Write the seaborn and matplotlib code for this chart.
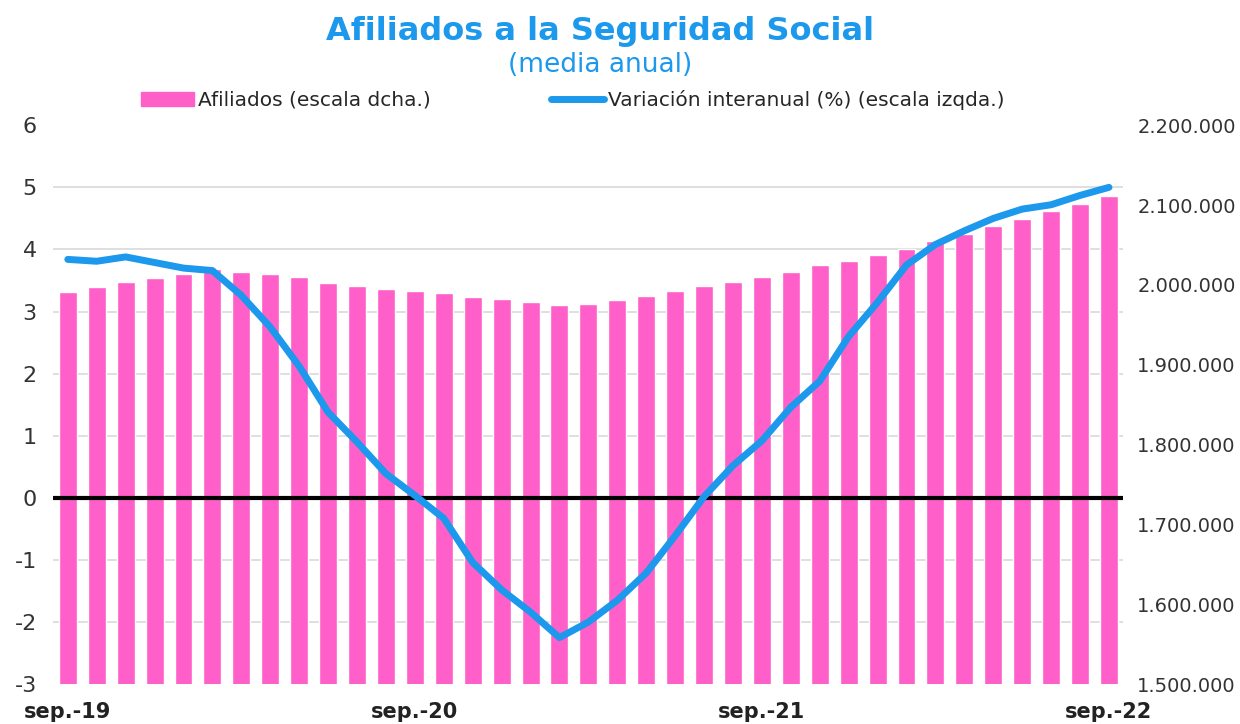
import pandas as pd
import matplotlib.pyplot as plt
import seaborn as sns
from matplotlib.lines import Line2D
from matplotlib.patches import Patch
from matplotlib.ticker import FuncFormatter

# monthly, sep-2019 .. sep-2022
meses = pd.date_range("2019-09-01", periods=37, freq="MS")
afiliados = [1990700, 1997700, 2004000, 2008600, 2013200, 2019400, 2016600, 2013200,
             2010400, 2002400, 1999000, 1994500, 1992900, 1989600, 1985000, 1982000,
             1978300, 1974800, 1976500, 1981500, 1986500, 1992900, 1999000, 2004000,
             2010400, 2016600, 2024400, 2029400, 2036900, 2045300, 2054800, 2064000,
             2074000, 2083200, 2093100, 2101500, 2111000]
variacion = [3.84, 3.81, 3.88, 3.79, 3.70, 3.66, 3.26, 2.75, 2.12, 1.38, 0.90, 0.39,
             0.04, -0.33, -1.04, -1.48, -1.84, -2.25, -2.00, -1.65, -1.21, -0.61,
             0.02, 0.52, 0.92, 1.46, 1.88, 2.60, 3.15, 3.75, 4.08, 4.30, 4.50, 4.65,
             4.72, 4.87, 5.00]
etiquetas_x = ["sep.-19", "sep.-20", "sep.-21", "sep.-22"]
pos_x = [0, 12, 24, 36]

df = pd.DataFrame({"idx": range(len(meses)), "mes": meses,
                   "afiliados": afiliados, "variacion": variacion})

PINK = "#FF5FC9"
BLUE = "#1C98EC"
L_MIN, L_MAX = -3, 6
R_MIN, R_MAX = 1500000, 2200000

sns.set_style("white")
plt.rcParams["font.family"] = ["DejaVu Sans"]
plt.rcParams["axes.unicode_minus"] = False

fig = plt.figure(figsize=(12.4, 7.24), dpi=100)
ax = fig.add_axes([0.043, 0.055, 0.863, 0.772])
ax2 = ax.twinx()

# bars on the right scale (drawn below), line on the left scale (drawn on top)
sns.barplot(data=df, x="idx", y="afiliados", color=PINK, width=0.62,
            saturation=1, ax=ax2, zorder=2)
ax2.set_ylim(R_MIN, R_MAX)
ax2.set_yticks(range(R_MIN, R_MAX + 1, 100000))
ax2.yaxis.set_major_formatter(FuncFormatter(lambda v, p: f"{int(v):,}".replace(",", ".")))
# gridlines follow the left scale but sit behind the bars
left_ticks = list(range(L_MIN, L_MAX + 1))
grid_pos = [R_MIN + (t - L_MIN) / (L_MAX - L_MIN) * (R_MAX - R_MIN) for t in left_ticks]
ax2.set_yticks(grid_pos, minor=True)
ax2.grid(axis="y", which="minor", color="#D9D9D9", linewidth=1.2, zorder=0)
ax2.grid(axis="y", which="major", visible=False)
ax2.set_axisbelow(True)
ax2.set_ylabel("")

ax.set_zorder(ax2.get_zorder() + 1)
ax.patch.set_visible(False)
sns.lineplot(data=df, x="idx", y="variacion", color=BLUE, linewidth=5,
             ax=ax, zorder=4)
ax.axhline(0, color="black", linewidth=3, zorder=3)
ax.set_ylim(L_MIN, L_MAX)
ax.set_yticks(left_ticks)
ax.set_xlim(-0.5, 36.5)
ax.set_xticks(pos_x)
ax.set_xticklabels(etiquetas_x, fontsize=15, fontweight="bold", color="#222222")
ax.set_xlabel("")
ax.set_ylabel("")

ax.tick_params(axis="y", labelsize=16, colors="#333333", length=0, pad=12)
ax.tick_params(axis="x", length=0, pad=13)
ax2.tick_params(axis="y", which="both", labelsize=14, colors="#333333", length=0, pad=10)
for a in (ax, ax2):
    for s in a.spines.values():
        s.set_visible(False)

fig.text(0.484, 0.957, "Afiliados a la Seguridad Social", ha="center", va="center",
         fontsize=23, fontweight="bold", color=BLUE)
fig.text(0.484, 0.91, "(media anual)", ha="center", va="center",
         fontsize=19, color=BLUE)

handles = [Patch(color=PINK), Line2D([0], [0], color=BLUE, linewidth=5)]
fig.legend(handles, ["Afiliados (escala dcha.)", "Variación interanual (%) (escala izqda.)"],
           loc="center", bbox_to_anchor=(0.462, 0.862), ncol=2, frameon=False,
           fontsize=14.5, handlelength=2.6, handletextpad=0.2, columnspacing=6)

fig.savefig("out.png", dpi=100)
